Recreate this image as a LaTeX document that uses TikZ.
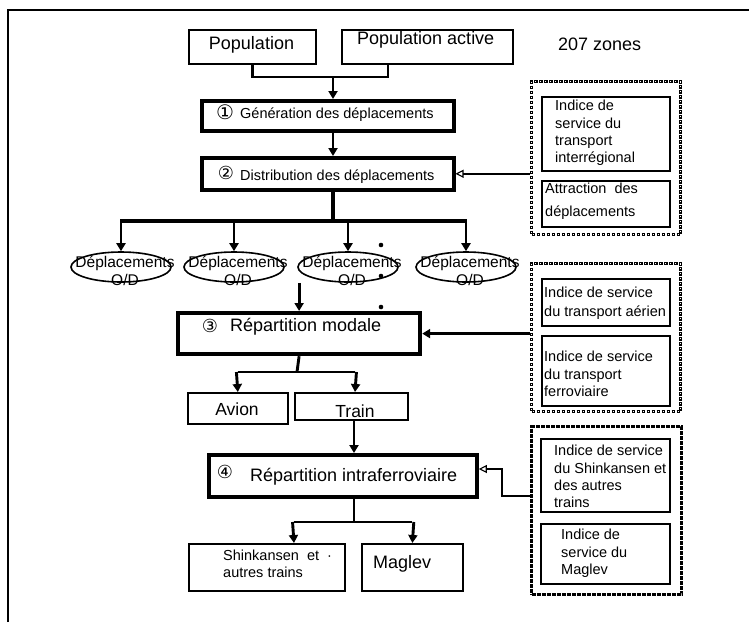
\documentclass[tikz,border=0pt]{standalone}
\usepackage{fontspec}
\setmainfont{Liberation Sans}
\newfontfamily\circfont{DejaVu Sans}
\usetikzlibrary{arrows.meta,shapes.geometric,calc}
\newcommand\Fbig{\fontsize{18}{21}\selectfont}
\newcommand\Fsml{\fontsize{14.5}{17.3}\selectfont}
\begin{document}
\begin{tikzpicture}[x=1pt,y=-1pt,
  thinbox/.style={draw, line width=1.7pt, inner sep=0pt, anchor=north west},
  thickbox/.style={draw, line width=3.5pt, inner sep=0pt, anchor=north west},
  hollowdots/.style={draw, inner sep=0pt, anchor=north west, line width=3pt,
     dash pattern=on 3.6pt off 1.4pt,
     postaction={draw=white, line width=1.1pt, dash pattern=on 1.2pt off 3.8pt, dash phase=3.8pt}},
  soliddots/.style={draw, inner sep=0pt, anchor=north west, line width=3.4pt,
     dash pattern=on 3.8pt off 1.2pt},
  odell/.style={ellipse, draw, line width=1.6pt, minimum width=100pt, minimum height=30pt, inner sep=0pt},
  txt/.style={inner sep=0pt, font=\Fsml},
  bigtxt/.style={inner sep=0pt, font=\Fbig},
  mtxt/.style={inner sep=0pt, anchor=north west, align=left},
  circ/.style={inner sep=0pt, font=\circfont\fontsize{20}{20}\selectfont},
  conn/.style={line width=2.9pt},
  arr/.style={conn, -{Triangle[length=8pt,width=9pt]}},
  openarr/.style={line width=2.2pt, -{Triangle[open,length=8pt,width=8pt,line width=1.1pt]}}
]
\useasboundingbox (0,0) rectangle (749,622);
\fill[white] (0,0) rectangle (749,622);
% outer frame
\draw[line width=2.2pt] (8,622) -- (8,10) -- (749,10);

% top boxes
\node[thinbox, minimum width=127pt, minimum height=34pt] (pop) at (188,29) {};
\node[thinbox, minimum width=171pt, minimum height=34pt] (popa) at (341,29) {};
\node[bigtxt, anchor=base] (tpop) at (251.5,49) {Population};
\node[bigtxt, anchor=base west] (tpopa) at (357,44) {Population active};
\node[bigtxt, anchor=base west] (zones) at (558,50) {207 zones};

% generation / distribution
\node[thickbox, minimum width=252pt, minimum height=30pt] (gen) at (200,99) {};
\node[circ] (c1) at (225,112) {①};
\node[txt, anchor=base west] (tgen) at (240,118) {Génération des déplacements};
\node[thickbox, minimum width=252pt, minimum height=32pt] (dist) at (200,156) {};
\node[circ, font=\circfont\fontsize{18}{18}\selectfont] (c2) at (226,173) {②};
\node[txt, anchor=base west] (tdist) at (240,180) {Distribution des déplacements};

% dotted box 1
\node[hollowdots, minimum width=149pt, minimum height=153pt] (d1) at (530,80) {};
\node[thinbox, line width=1.6pt, minimum width=128pt, minimum height=74pt] (b1a) at (541,96) {};
\node[thinbox, line width=1.6pt, minimum width=128pt, minimum height=46pt] (b1b) at (541,180) {};
\node[mtxt, font=\fontsize{14.5}{17.3}\selectfont] (t1a) at (555,100) {Indice de\\service du\\transport\\interrégional};
\node[mtxt, font=\fontsize{14.5}{23}\selectfont] (t1b) at (545,183) {Attraction\ \ des\\déplacements};

% connectors top
\coordinate (pa) at (388,63);
\coordinate (j1) at (333,77);
\coordinate (ax) at (333,0);
\draw[conn] (pop.south) -- (pop.south |- j1) -- (j1 -| pa) -- (pa);
\draw[arr] (j1) -- (ax |- gen.north);
\draw[arr] (ax |- gen.south) -- (ax |- dist.north);
\draw[openarr] (d1.west |- dist.east) -- (dist.east);

% bus and ellipses
\coordinate (bus) at (0,221);
\node[odell] (e1) at (121,267) {};
\node[odell] (e2) at (234,267) {};
\node[odell] (e3) at (348,267) {};
\node[odell] (e4) at (466,267) {};
\draw[line width=3.5pt] (ax |- dist.south) -- (ax |- bus);
\draw[line width=3.5pt] (e1.north |- bus) -- (e4.north |- bus);
\foreach \e in {e1,e2,e3,e4}{
  \draw[arr] ([yshift=1.6pt]\e.north |- bus) -- (\e.north);
}
\foreach \e/\x in {e1/125,e2/238,e3/352,e4/470}{
  \node[txt, font=\fontsize{15.5}{15}\selectfont, anchor=base] (\e-a) at (\x,267) {Déplacements};
  \node[txt, font=\fontsize{15.5}{15}\selectfont, anchor=base] (\e-b) at (\x,285) {O/D};
}
\fill (381,245) circle[radius=2.3];
\fill (381,276) circle[radius=2.3];
\fill (381,307) circle[radius=2.3];

% repartition modale
\node[thickbox, line width=4.2pt, minimum width=242pt, minimum height=41pt] (r3) at (176,311) {};
\node[circ, font=\circfont\fontsize{18}{18}\selectfont] (c3) at (210,326) {③};
\node[bigtxt, anchor=base west] (tr3) at (230,331) {Répartition modale};
\draw[arr] (r3.north |- e3.south) -- (r3.north);

% dotted box 2
\node[hollowdots, minimum width=149pt, minimum height=148pt] (d2) at (530,262) {};
\node[thinbox, line width=1.6pt, minimum width=128pt, minimum height=47pt] (b2a) at (541,278) {};
\node[thinbox, line width=1.6pt, minimum width=128pt, minimum height=70pt] (b2b) at (541,335) {};
\node[mtxt, font=\fontsize{14.5}{19}\selectfont] (t2a) at (544,287) {Indice de service\\du transport aérien};
\node[mtxt, font=\fontsize{14.5}{17.5}\selectfont] (t2b) at (544,351) {Indice de service\\du transport\\ferroviaire};
\draw[arr] (d2.west |- r3.east) -- (r3.east);

% avion / train
\node[thinbox, minimum width=100pt, minimum height=31pt] (avion) at (187,392) {};
\node[thinbox, minimum width=113pt, minimum height=27pt] (train) at (294,392) {};
\node[bigtxt, font=\fontsize{17.5}{20}\selectfont, anchor=base] (tav) at (237,415) {Avion};
\node[bigtxt, font=\fontsize{17.5}{20}\selectfont, anchor=base] (ttr) at (355,417) {Train};
\coordinate (j3) at (297,372);
\coordinate (tx) at (355,0);
\draw[conn] (r3.south) -- (j3);
\draw[conn] (avion.north |- j3) -- (tx |- j3);
\draw[arr] ([xshift=-1.45pt]avion.north |- j3) -- (avion.north);
\draw[arr] ([xshift=1.45pt]tx |- j3) -- (tx |- train.north);

% repartition intraferroviaire
\node[thickbox, line width=3.8pt, minimum width=268pt, minimum height=42pt] (r4) at (207,453) {};
\node[circ, font=\circfont\fontsize{18}{18}\selectfont] (c4) at (225,472) {④};
\node[bigtxt, anchor=base west] (tr4) at (250,481) {Répartition intraferroviaire};
\coordinate (rx) at (354,0);
\draw[arr] (rx |- train.south) -- (rx |- r4.north);

% dotted box 3
\node[soliddots, minimum width=150pt, minimum height=168pt] (d3) at (530,425) {};
\node[thinbox, line width=1.6pt, minimum width=129pt, minimum height=73pt] (b3a) at (540,438) {};
\node[thinbox, line width=1.6pt, minimum width=129pt, minimum height=60pt] (b3b) at (540,523) {};
\node[mtxt, font=\fontsize{14.5}{17.3}\selectfont] (t3a) at (554,445) {Indice de service\\du Shinkansen et\\des autres\\trains};
\node[mtxt, font=\fontsize{14.5}{17.5}\selectfont] (t3b) at (561,529) {Indice de\\service du\\Maglev};
\coordinate (c3a) at (530,496);
\coordinate (k3) at (502,469);
\draw[openarr] (c3a) -| (k3) -- (k3 -| r4.east);

% bottom boxes
\node[thinbox, minimum width=156pt, minimum height=47pt] (shin) at (188,543) {};
\node[thinbox, minimum width=101pt, minimum height=47pt] (mag) at (361,543) {};
\node[mtxt, font=\fontsize{14.5}{17}\selectfont] (tshin) at (223,550) {Shinkansen\ \ et\ \ ·\\autres trains};
\node[bigtxt, anchor=base west] (tmag) at (373,568) {Maglev};
\coordinate (j4) at (354,522);
\coordinate (sx) at (294,0);
\draw[conn] (rx |- r4.south) -- (j4);
\draw[conn] (sx |- j4) -- (mag.north |- j4);
\draw[arr] ([xshift=-1.45pt]sx |- j4) -- (sx |- shin.north);
\draw[arr] ([xshift=1.45pt]mag.north |- j4) -- (mag.north);
\end{tikzpicture}
\end{document}
